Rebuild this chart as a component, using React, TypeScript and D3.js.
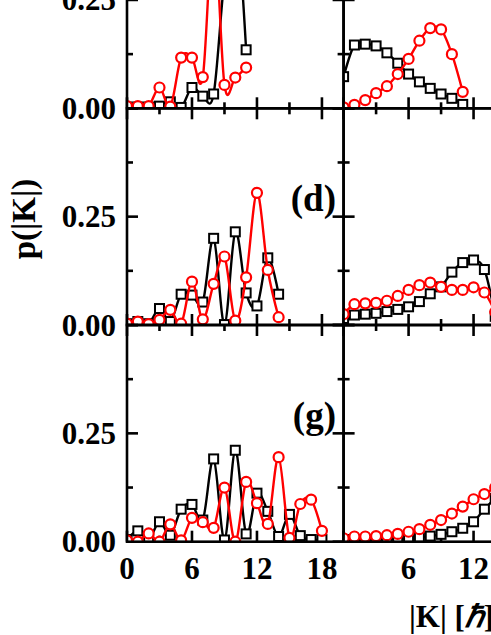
import React from "react";
import * as d3 from "d3";

// ---------- data ----------
const kRow1 = [0, 1, 2, 3, 4, 5, 6, 7, 8, 9, 10, 11];
const kRow2 = [0, 1, 2, 3, 4, 5, 6, 7, 8, 9, 10, 11, 12, 13, 14];
const kRow3 = [0, 1, 2, 3, 4, 5, 6, 7, 8, 9, 10, 11, 12, 13, 14, 15, 16, 17, 18];

const row1LeftBlack = [0.003, 0.003, 0.003, 0.005, 0.015, 0.002, 0.048, 0.028, 0.033, 0.3, 0.45, 0.135];
const row1LeftRed = [0.005, 0.005, 0.005, 0.048, 0.004, 0.117, 0.117, 0.072, 0.42, 0.054, 0.071, 0.094];
const row1RightBlack = [0.073, 0.146, 0.148, 0.144, 0.128, 0.104, 0.079, 0.061, 0.046, 0.033, 0.023, 0.009];
const row1RightRed = [0.002, 0.008, 0.019, 0.035, 0.051, 0.079, 0.114, 0.156, 0.185, 0.182, 0.125, 0.038];

const row2LeftBlack = [0.003, 0.008, 0.003, 0.038, 0.008, 0.071, 0.069, 0.053, 0.2, 0.001, 0.215, 0.074, 0.044, 0.155, 0.071];
const row2LeftRed = [0.003, 0.008, 0.002, 0.012, 0.035, 0.003, 0.1, 0.013, 0.095, 0.158, 0.01, 0.11, 0.305, 0.127, 0.018];
const row2RightBlack = [0.015, 0.023, 0.025, 0.027, 0.031, 0.036, 0.042, 0.054, 0.072, 0.088, 0.122, 0.144, 0.15, 0.128, 0.02];
const row2RightRed = [0.025, 0.048, 0.05, 0.051, 0.056, 0.067, 0.081, 0.092, 0.098, 0.088, 0.081, 0.081, 0.087, 0.075, 0.03];

const row3LeftBlack = [0.005, 0.025, 0.005, 0.046, 0.015, 0.075, 0.086, 0.05, 0.191, 0.004, 0.211, 0.018, 0.112, 0.07, 0.012, 0.063, 0.014, 0.005, 0.005];
const row3LeftRed = [0.003, 0.0, 0.019, 0.0, 0.04, 0.003, 0.055, 0.045, 0.032, 0.125, 0.0, 0.138, 0.089, 0.041, 0.195, 0.009, 0.087, 0.097, 0.025];
const row3RightBlack = [0.005, 0.005, 0.005, 0.005, 0.005, 0.005, 0.006, 0.01, 0.013, 0.017, 0.023, 0.031, 0.046, 0.075, 0.1];
const row3RightRed = [0.008, 0.012, 0.012, 0.013, 0.015, 0.018, 0.023, 0.029, 0.039, 0.05, 0.065, 0.081, 0.098, 0.11, 0.125];

const xMajorTicks = [0, 6, 12, 18];
const xMinorTicks = [3, 9, 15];
const yMajorTicks = [0, 0.25, 0.5];
const yMinorTicks = [0.125, 0.375];
const yTickLabels = [0, 0.25];
const leftXLabels = [0, 6, 12, 18];
const rightXLabels = [6, 12, 18];
const panelLabels = ["", "(d)", "(g)"];

// ---------- layout ----------
const W = 491;
const H = 635;
const colX0 = [127, 343.6];
const colW = 216.6;
const rowTop = [-108.4, 108.3, 325];
const rowH = 216.7;
const FONT = "'Liberation Serif', 'Times New Roman', serif";

type Panel = { row: number; col: number; k: number[]; black: number[]; red: number[] };

const panels: Panel[] = [
  { row: 0, col: 0, k: kRow1, black: row1LeftBlack, red: row1LeftRed },
  { row: 0, col: 1, k: kRow1, black: row1RightBlack, red: row1RightRed },
  { row: 1, col: 0, k: kRow2, black: row2LeftBlack, red: row2LeftRed },
  { row: 1, col: 1, k: kRow2, black: row2RightBlack, red: row2RightRed },
  { row: 2, col: 0, k: kRow3, black: row3LeftBlack, red: row3LeftRed },
  { row: 2, col: 1, k: kRow2, black: row3RightBlack, red: row3RightRed },
];

function PanelView({ p }: { p: Panel }) {
  const x0 = colX0[p.col];
  const top = rowTop[p.row];
  const x = d3.scaleLinear().domain([0, 20]).range([x0, x0 + colW]);
  const y = d3.scaleLinear().domain([0, 0.5]).range([top + rowH, top]);
  const line = d3
    .line<number>()
    .x((_, i) => x(p.k[i]))
    .y((v) => y(v))
    .curve(d3.curveCardinal);
  const clipId = `clip-${p.row}-${p.col}`;
  const bottom = top + rowH;
  const right = x0 + colW;
  const majLen = 11;
  const minLen = 6;
  const sw = 2.6;
  return (
    <g>
      <defs>
        <clipPath id={clipId}>
          <rect x={x0} y={top} width={colW} height={rowH} />
        </clipPath>
      </defs>
      {xMajorTicks.concat(xMinorTicks).map((t) => {
        const len = xMajorTicks.includes(t) ? majLen : minLen;
        return (
          <g key={"xt" + t} stroke="#000" strokeWidth={sw}>
            <line x1={x(t)} x2={x(t)} y1={bottom} y2={bottom - len} />
            <line x1={x(t)} x2={x(t)} y1={top} y2={top + len} />
          </g>
        );
      })}
      {yMajorTicks.concat(yMinorTicks).map((t) => {
        const len = yMajorTicks.includes(t) ? majLen : minLen;
        return (
          <g key={"yt" + t} stroke="#000" strokeWidth={sw}>
            <line x1={x0} x2={x0 + len} y1={y(t)} y2={y(t)} />
            <line x1={right} x2={right - len} y1={y(t)} y2={y(t)} />
          </g>
        );
      })}
      <g clipPath={`url(#${clipId})`}>
        <path d={line(p.black) || ""} fill="none" stroke="#000" strokeWidth={2.4} />
        {p.black.map((v, i) => (
          <rect
            key={"b" + i}
            x={x(p.k[i]) - 4.5}
            y={y(v) - 4.5}
            width={9}
            height={9}
            fill="#fff"
            stroke="#000"
            strokeWidth={2}
          />
        ))}
        <path d={line(p.red) || ""} fill="none" stroke="#ff0000" strokeWidth={2.4} />
        {p.red.map((v, i) => (
          <circle
            key={"r" + i}
            cx={x(p.k[i])}
            cy={y(v)}
            r={5}
            fill="#fff"
            stroke="#ff0000"
            strokeWidth={2.2}
          />
        ))}
      </g>
      <rect x={x0} y={top} width={colW} height={rowH} fill="none" stroke="#000" strokeWidth={sw} />
    </g>
  );
}

export default function App() {
  const xl = d3.scaleLinear().domain([0, 20]).range([colX0[0], colX0[0] + colW]);
  const xr = d3.scaleLinear().domain([0, 20]).range([colX0[1], colX0[1] + colW]);
  const yScales = rowTop.map((t) => d3.scaleLinear().domain([0, 0.5]).range([t + rowH, t]));
  return (
    <svg
      width={W}
      height={H}
      viewBox={`0 0 ${W} ${H}`}
      style={{ position: "absolute", left: 0, top: 0, background: "#fff" }}
      fontFamily={FONT}
      fontWeight="bold"
    >
      <rect x={0} y={0} width={W} height={H} fill="#fff" />
      {panels.map((p) => (
        <PanelView key={`${p.row}-${p.col}`} p={p} />
      ))}
      {yScales.map((ys, r) =>
        yTickLabels.map((t) => (
          <text key={`yl${r}-${t}`} x={116} y={ys(t) + 10.5} fontSize={31} textAnchor="end">
            {t.toFixed(2)}
          </text>
        ))
      )}
      {leftXLabels.map((t) => (
        <text key={"xl" + t} x={xl(t)} y={579} fontSize={31} textAnchor="middle">
          {t}
        </text>
      ))}
      {rightXLabels.map((t) => (
        <text key={"xr" + t} x={xr(t)} y={579} fontSize={31} textAnchor="middle">
          {t}
        </text>
      ))}
      {panelLabels.map((lab, r) =>
        lab ? (
          <text key={"pl" + r} x={336} y={rowTop[r] + 103} fontSize={37} textAnchor="end">
            {lab}
          </text>
        ) : null
      )}
      <text x={409} y={627} fontSize={31}>
        |K| [<tspan fontStyle="italic">ℏ</tspan>]
      </text>
      <text transform={`translate(35, 219) rotate(-90)`} fontSize={33} textAnchor="middle">
        p(|K|)
      </text>
    </svg>
  );
}
